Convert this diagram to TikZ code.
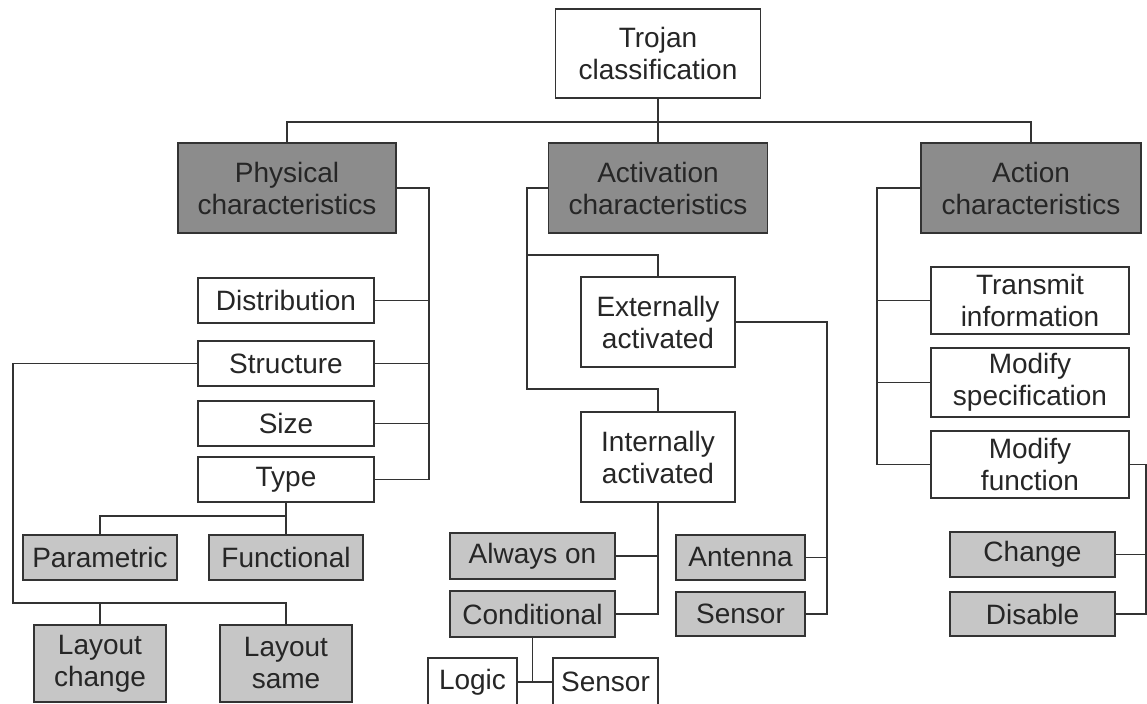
\documentclass[tikz,border=0pt]{standalone}
\usepackage{fontspec}
\setmainfont{Liberation Sans}
\definecolor{dkfill}{HTML}{8C8C8C}
\definecolor{ltfill}{HTML}{C6C6C6}
\definecolor{edge}{HTML}{333333}
\definecolor{txt}{HTML}{262626}
\tikzset{
  box/.style={draw=edge, line width=0.8pt, inner sep=0pt, align=center, text=txt,
    font=\fontsize{14}{16}\selectfont},
  wbox/.style={box, fill=white},
  dbox/.style={box, fill=dkfill},
  lbox/.style={box, fill=ltfill},
  conn/.style={draw=edge, line width=0.85pt}
}
\begin{document}
\begin{tikzpicture}[x=0.5pt, y=-0.5pt]
\fill[white] (0,0) rectangle (1147,704);
\useasboundingbox (0,0) rectangle (1147,704);
% top
\node[wbox, minimum width=102.5pt, minimum height=44.5pt] (troj) at (658,53.5) {Trojan\\classification};
\node[dbox, minimum width=109pt, minimum height=45pt] (phys) at (287,188) {Physical\\characteristics};
\node[dbox, minimum width=109.5pt, minimum height=45pt] (activ) at (658,188) {Activation\\characteristics};
\node[dbox, minimum width=110pt, minimum height=45pt] (action) at (1031,188) {Action\\characteristics};
% physical
\node[wbox, minimum width=88pt, minimum height=22.5pt] (dist) at (286,300.5) {Distribution};
\node[wbox, minimum width=88pt, minimum height=22.5pt] (struct) at (286,363.5) {Structure};
\node[wbox, minimum width=88pt, minimum height=22.5pt] (size) at (286,423.5) {Size};
\node[wbox, minimum width=88pt, minimum height=22.5pt] (type) at (286,479.5) {Type};
\node[lbox, minimum width=77pt, minimum height=22.5pt] (param) at (100,557.5) {Parametric};
\node[lbox, minimum width=77pt, minimum height=22.5pt] (func) at (286,557.5) {Functional};
\node[lbox, minimum width=66pt, minimum height=38.5pt] (laych) at (100,663.5) {Layout\\change};
\node[lbox, minimum width=66pt, minimum height=38.5pt] (laysame) at (286,663.5) {Layout\\same};
% activation
\node[wbox, minimum width=77pt, minimum height=45pt] (ext) at (658,322) {Externally\\activated};
\node[wbox, minimum width=77pt, minimum height=45pt] (int) at (658,457) {Internally\\activated};
\node[lbox, minimum width=82.5pt, minimum height=23pt] (always) at (532.5,556) {Always on};
\node[lbox, minimum width=82.5pt, minimum height=23pt] (cond) at (532.5,614) {Conditional};
\node[wbox, minimum width=44.5pt, minimum height=24pt] (logic) at (472.5,682) {Logic};
\node[wbox, minimum width=52.5pt, minimum height=24pt] (sensB) at (605.5,682) {Sensor};
\node[lbox, minimum width=64.5pt, minimum height=22.5pt] (ant) at (740.5,557.5) {Antenna};
\node[lbox, minimum width=64.5pt, minimum height=22pt] (sensA) at (740.5,614) {Sensor};
% action
\node[wbox, minimum width=99pt, minimum height=33.5pt] (trans) at (1030,300.5) {Transmit\\information};
\node[wbox, minimum width=99pt, minimum height=34.5pt] (modspec) at (1030,382.5) {Modify\\specification};
\node[wbox, minimum width=99pt, minimum height=33.5pt] (modfunc) at (1030,464.5) {Modify\\function};
\node[lbox, minimum width=82.5pt, minimum height=22.5pt] (change) at (1032.5,554.5) {Change};
\node[lbox, minimum width=82.5pt, minimum height=22pt] (disable) at (1032.5,614) {Disable};
% junction coordinates
\coordinate (bus) at (658,122);
\coordinate (px) at (429,188);
\coordinate (sL) at (13,603);
\coordinate (tj) at (286,516);
\coordinate (aL) at (527,389);
\coordinate (aE) at (527,255);
\coordinate (ex) at (827,322);
\coordinate (acx) at (877,188);
\coordinate (mx) at (1146,464.5);
% connectors
\draw[conn] (troj.south) -- (activ.north);
\draw[conn] (phys.north) |- (bus) -| (action.north);
% physical
\draw[conn] (phys.east) -- (px) |- (type.east);
\draw[conn] (dist.east) -- (dist.east -| px);
\draw[conn] (struct.east) -- (struct.east -| px);
\draw[conn] (size.east) -- (size.east -| px);
\draw[conn] (struct.west) -| (sL) -| (laysame.north);
\draw[conn] (laych.north) -- (laych.north |- sL);
\draw[conn] (type.south) -- (func.north);
\draw[conn] (param.north) |- (tj);
% activation
\draw[conn] (activ.west) -| (aL) -| (int.north);
\draw[conn] (aE) -| (ext.north);
\draw[conn] (int.south) |- (cond.east);
\draw[conn] (always.east) -- (always.east -| int.south);
\draw[conn] (cond.south) -- (cond.south |- logic.east);
\draw[conn] (logic.east) -- (sensB.west);
\draw[conn] (ext.east) -- (ex) |- (sensA.east);
\draw[conn] (ant.east) -- (ant.east -| ex);
% action
\draw[conn] (action.west) -- (acx) |- (modfunc.west);
\draw[conn] (trans.west) -- (trans.west -| acx);
\draw[conn] (modspec.west) -- (modspec.west -| acx);
\draw[conn] (modfunc.east) -- (mx) |- (disable.east);
\draw[conn] (change.east) -- (change.east -| mx);
\end{tikzpicture}
\end{document}
